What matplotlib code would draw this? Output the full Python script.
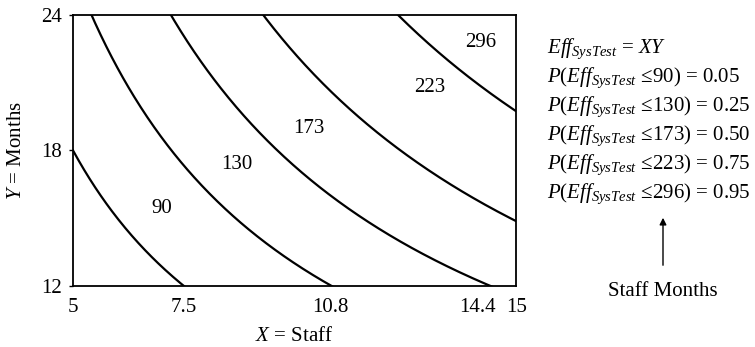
import numpy as np
import matplotlib
matplotlib.use("Agg")
import matplotlib.pyplot as plt
from matplotlib.transforms import ScaledTranslation

plt.rcParams["font.family"] = ["Liberation Serif", "DejaVu Serif"]
plt.rcParams["mathtext.fontset"] = "custom"
plt.rcParams["mathtext.rm"] = "Liberation Serif"
plt.rcParams["mathtext.it"] = "Liberation Serif:italic"

FS = 15

# Staff-month effort levels (XY = constant) and their cumulative probabilities
effort_levels = [90, 130, 173, 223, 296]
probabilities = ["0.05", "0.25", "0.50", "0.75", "0.95"]
label_x = [7.0, 8.7, 10.33, 13.06, 14.19]
label_y = [15.45, 17.36, 18.95, 20.8, 22.76]

x_ticks = [5, 7.5, 10.8, 14.4, 15]
x_tick_labels = ["5", "7.5", "10.8", "14.4", "15"]
y_ticks = [12, 18, 24]

fig = plt.figure(figsize=(7.55, 3.47), dpi=100)
ax = fig.add_axes([0.0967, 0.176, 0.587, 0.781])

xs = np.linspace(5, 15, 400)
for c in effort_levels:
    ax.plot(xs, c / xs, color="black", lw=1.6)

for c, lx, ly in zip(effort_levels, label_x, label_y):
    ax.text(lx, ly, str(c), ha="center", va="center", fontsize=FS)

ax.set_xlim(5, 15)
ax.set_ylim(12, 24)
ax.set_xticks(x_ticks)
ax.set_xticklabels(x_tick_labels, fontsize=FS)
ax.set_yticks(y_ticks)
ax.set_yticklabels([str(v) for v in y_ticks], fontsize=FS)
ax.tick_params(axis="x", length=0, pad=9)
ax.tick_params(axis="y", length=3, width=1, pad=5)
for sp in ax.spines.values():
    sp.set_linewidth(1.3)

# nudge the crowded 14.4 label left of its neighbour
lbl = ax.get_xticklabels()[3]
lbl.set_transform(lbl.get_transform() + ScaledTranslation(-0.12, 0, fig.dpi_scale_trans))

ax.set_xlabel("$X$ = Staff", fontsize=FS, labelpad=7)
ax.set_ylabel("$Y$ = Months", fontsize=FS, labelpad=11)

# effort equations on the right
lines = ["$Eff_{SysTest}$ = $XY$"]
for c, p in zip(effort_levels, probabilities):
    lines.append(f"$P(Eff_{{SysTest}}$ ≤{c}) = {p}")
y0 = 1 - 49 / 347
step = 29 / 347
for i, t in enumerate(lines):
    fig.text(547 / 755, y0 - i * step, t, ha="left", va="center", fontsize=FS)

fig.patches.append(matplotlib.patches.FancyArrowPatch(
    (663 / 755, 1 - 268 / 347), (663 / 755, 1 - 215 / 347),
    transform=fig.transFigure, arrowstyle="-|>", mutation_scale=10,
    color="black", lw=1.0))
fig.text(663 / 755, 1 - 291 / 347, "Staff Months", ha="center", va="center", fontsize=FS)

fig.savefig("out.png", dpi=100)
